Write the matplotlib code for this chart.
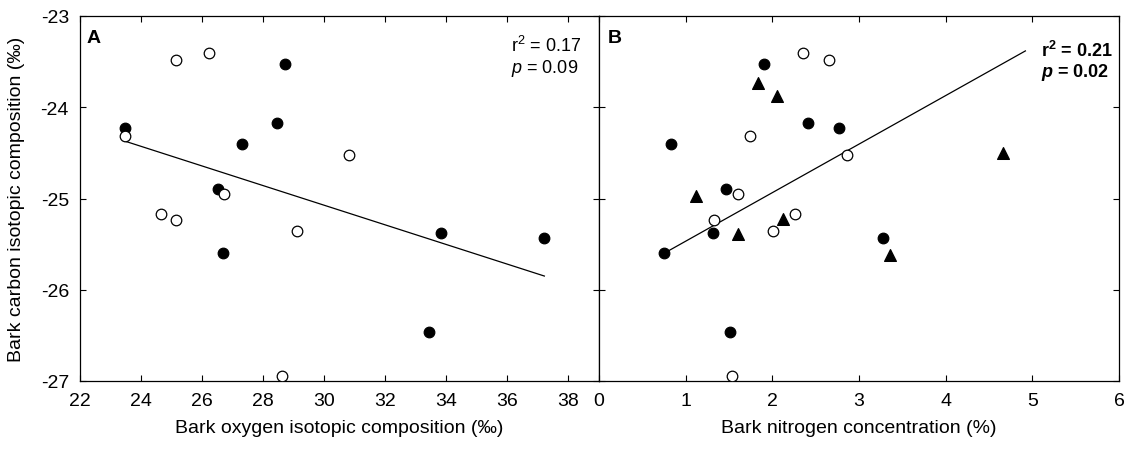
import matplotlib
matplotlib.use('Agg')
import matplotlib.pyplot as plt

plt.rcParams['font.family'] = ['Liberation Sans', 'DejaVu Sans']
plt.rcParams['axes.unicode_minus'] = False
plt.rcParams['mathtext.fontset'] = 'custom'
plt.rcParams['mathtext.rm'] = 'Liberation Sans'
plt.rcParams['mathtext.it'] = 'Liberation Sans:italic'
plt.rcParams['mathtext.bf'] = 'Liberation Sans:bold'
plt.rcParams['mathtext.bfit'] = 'Liberation Sans:bold:italic'

# ---------------- data ----------------
# Panel A: bark oxygen isotopic composition vs bark carbon isotopic composition
a_open_x = [25.14, 26.22, 23.46, 30.81, 26.73, 24.64, 25.14, 29.11, 28.62]
a_open_y = [-23.48, -23.41, -24.32, -24.52, -24.95, -25.17, -25.24, -25.36, -26.94]
a_filled_x = [28.71, 23.49, 28.46, 27.29, 26.53, 26.67, 33.83, 37.19, 33.44]
a_filled_y = [-23.53, -24.23, -24.17, -24.40, -24.90, -25.60, -25.38, -25.43, -26.46]
a_fit_slope = -0.1076
a_fit_intercept = -21.846
a_fit_x = [23.46, 37.21]

# Panel B: bark nitrogen concentration vs bark carbon isotopic composition
b_filled_x = [1.90, 2.41, 2.77, 0.83, 1.46, 1.32, 0.75, 3.28, 1.51]
b_filled_y = [-23.53, -24.17, -24.23, -24.40, -24.90, -25.38, -25.60, -25.43, -26.46]
b_open_x = [2.35, 2.65, 1.74, 2.86, 1.60, 1.33, 2.26, 2.01, 1.53]
b_open_y = [-23.41, -23.48, -24.32, -24.52, -24.95, -25.24, -25.17, -25.36, -26.94]
b_tri_x = [1.83, 2.05, 1.12, 1.60, 2.12, 3.36, 4.66]
b_tri_y = [-23.73, -23.88, -24.97, -25.39, -25.22, -25.62, -24.50]
b_fit_slope = 0.532
b_fit_intercept = -26.0
b_fit_x = [0.75, 4.92]

a_xticks = [22, 24, 26, 28, 30, 32, 34, 36, 38]
b_xticks = [0, 1, 2, 3, 4, 5, 6]
yticks = [-27, -26, -25, -24, -23]

a_stats = ["r$^2$ = 0.17", "$\\it{p}$ = 0.09"]
b_stats = ["r$^\\mathbf{2}$ = 0.21", "$\\mathbfit{p}$ = 0.02"]

# ---------------- figure ----------------
W, H = 1130, 452
fig = plt.figure(figsize=(W / 100, H / 100), dpi=100)
bottom = 1 - 382 / H
height = 365 / H
axA = fig.add_axes([80 / W, bottom, 519 / W, height])
axB = fig.add_axes([599 / W, bottom, 520 / W, height])

ms = 58
lw_edge = 0.9

# Panel A
axA.scatter(a_filled_x, a_filled_y, s=ms, c='black', edgecolors='black', linewidths=lw_edge, zorder=3)
axA.scatter(a_open_x, a_open_y, s=ms, c='white', edgecolors='black', linewidths=lw_edge, zorder=4)
axA.plot(a_fit_x, [a_fit_slope * x + a_fit_intercept for x in a_fit_x], color='black', lw=0.9, zorder=2)
axA.set_xlim(22, 39)
axA.set_ylim(-27, -23)
axA.set_xticks(a_xticks)
axA.set_yticks(yticks)

# Panel B
axB.scatter(b_filled_x, b_filled_y, s=ms, c='black', edgecolors='black', linewidths=lw_edge, zorder=3)
axB.scatter(b_open_x, b_open_y, s=ms, c='white', edgecolors='black', linewidths=lw_edge, zorder=4)
axB.scatter(b_tri_x, b_tri_y, s=72, marker='^', c='black', edgecolors='black', linewidths=lw_edge, zorder=3)
axB.plot(b_fit_x, [b_fit_slope * x + b_fit_intercept for x in b_fit_x], color='black', lw=0.9, zorder=2)
axB.set_xlim(0, 6)
axB.set_ylim(-27, -23)
axB.set_xticks(b_xticks)
axB.set_yticks(yticks)

for ax in (axA, axB):
    ax.tick_params(direction='in', top=True, right=True, length=4, width=0.8,
                   labelsize=14, pad=8, colors='black')
    for sp in ax.spines.values():
        sp.set_linewidth(0.9)
axB.tick_params(labelleft=False)

axA.set_xlabel("Bark oxygen isotopic composition (‰)", fontsize=14)
axB.set_xlabel("Bark nitrogen concentration (%)", fontsize=14)
axA.set_ylabel("Bark carbon isotopic composition (‰)", fontsize=14)
axA.xaxis.set_label_coords(0.5, -0.105)
axB.xaxis.set_label_coords(0.5, -0.105)
axA.yaxis.set_label_coords(-0.106, 0.5)

axA.text(0.0135, 0.929, "A", transform=axA.transAxes, fontsize=14, fontweight='bold', va='baseline', ha='left')
axB.text(0.017, 0.929, "B", transform=axB.transAxes, fontsize=14, fontweight='bold', va='baseline', ha='left')

axA.text(0.830, 0.904, a_stats[0], transform=axA.transAxes, fontsize=13, va='baseline', ha='left')
axA.text(0.830, 0.847, a_stats[1], transform=axA.transAxes, fontsize=13, va='baseline', ha='left')
axB.text(0.850, 0.890, b_stats[0], transform=axB.transAxes, fontsize=13, fontweight='bold', va='baseline', ha='left')
axB.text(0.850, 0.836, b_stats[1], transform=axB.transAxes, fontsize=13, fontweight='bold', va='baseline', ha='left')

fig.savefig("out.png", dpi=100)
